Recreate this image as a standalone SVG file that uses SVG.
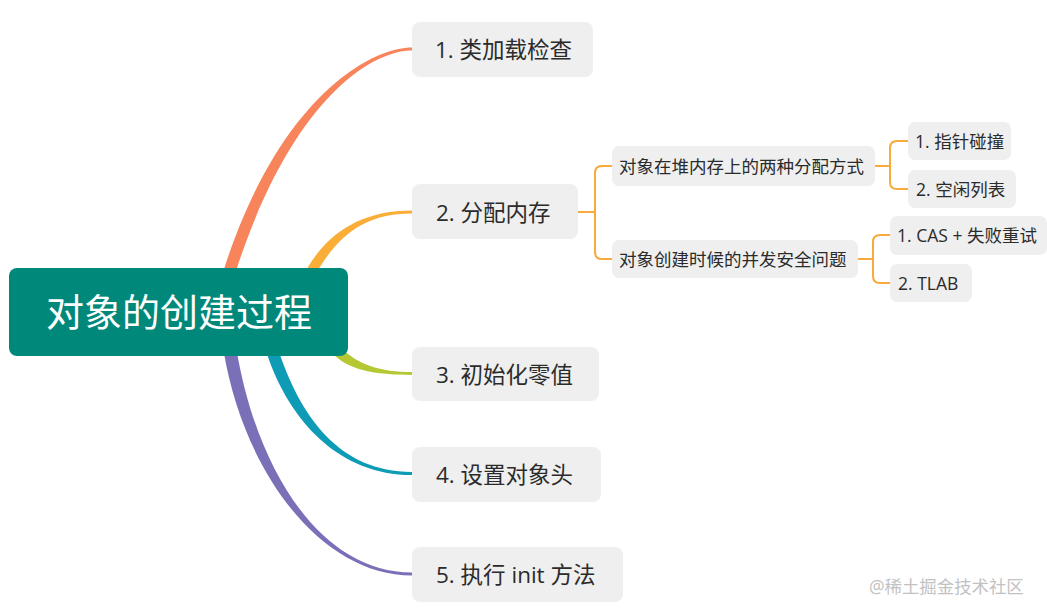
<svg xmlns="http://www.w3.org/2000/svg" width="1047" height="612" viewBox="0 0 1047 612">
<style>
.t{font-family:"Open Sans","Noto Sans CJK SC",sans-serif;fill:#2b2b2b;dominant-baseline:central}
.m{font-size:22.5px}
.s{font-size:17.5px}
.box{fill:#efefef}
.sub{fill:none;stroke:#f9aa3c;stroke-width:2;stroke-linecap:round}
</style>
<rect width="1047" height="612" fill="#ffffff"/>
<g id="connectors">
<path d="M 224.3 268.2 C 279.3 98.2 370 47.5 412 47.5 L 412 50.5 C 370 50.5 290.7 101.8 235.7 271.8 Z" fill="#f7845b"/>
<path d="M 307.7 267.4 C 330.7 229.4 365 210.5 412 210.5 L 412 213.5 C 365 213.5 339.3 234.6 316.3 272.6 Z" fill="#fbae37"/>
<path d="M 341.4 348.4 C 358.4 364.4 380 372 412 372 L 412 375 C 380 375 351.6 371.6 334.6 355.6 Z" fill="#b5c834"/>
<path d="M 277.7 348.1 C 300.7 418.1 340 472 412 472 L 412 475 C 340 475 289.3 421.9 266.3 351.9 Z" fill="#0e9bb6"/>
<path d="M 236.4 348.9 C 256.4 468.9 320 572.5 412 572.5 L 412 575.5 C 320 575.5 243.6 471.1 223.6 351.1 Z" fill="#7a70b8"/>
<path class="sub" d="M 578 212 H 595 M 612 166 H 602 Q 595 166 595 173 V 252 Q 595 259 602 259 H 612"/>
<path class="sub" d="M 875 166 H 890 M 908 141 H 897 Q 890 141 890 148 V 182 Q 890 189 897 189 H 908"/>
<path class="sub" d="M 858 259 H 873 M 890 235 H 880 Q 873 235 873 242 V 276 Q 873 283 880 283 H 890"/>
</g>
<g id="root">
<rect x="9" y="268" width="339" height="88" rx="8" fill="#00897b"/>
<text x="179" y="311" text-anchor="middle" font-family="'Open Sans','Noto Sans CJK SC',sans-serif" font-size="38" fill="#ffffff" dominant-baseline="central">对象的创建过程</text>
</g>
<g id="n1">
<rect class="box" x="412" y="22" width="181" height="55" rx="8"/>
<text class="t m" x="435" y="49">1. 类加载检查</text>
</g>
<g id="n2">
<rect class="box" x="412" y="184" width="166" height="55" rx="8"/>
<text class="t m" x="436" y="212">2. 分配内存</text>
</g>
<g id="n3">
<rect class="box" x="412" y="347" width="187" height="54" rx="8"/>
<text class="t m" x="436" y="374">3. 初始化零值</text>
</g>
<g id="n4">
<rect class="box" x="412" y="447" width="189" height="55" rx="8"/>
<text class="t m" x="436" y="474">4. 设置对象头</text>
</g>
<g id="n5">
<rect class="box" x="412" y="547" width="211" height="55" rx="8"/>
<text class="t m" x="436" y="574">5. 执行 init 方法</text>
</g>
<g id="n2a">
<rect class="box" x="612" y="146" width="263" height="40" rx="7"/>
<text class="t s" x="619" y="166">对象在堆内存上的两种分配方式</text>
</g>
<g id="n2b">
<rect class="box" x="612" y="240" width="246" height="38" rx="7"/>
<text class="t s" x="619" y="259">对象创建时候的并发安全问题</text>
</g>
<g id="n2a1">
<rect class="box" x="908" y="122" width="103" height="38" rx="7"/>
<text class="t s" x="915" y="141">1. 指针碰撞</text>
</g>
<g id="n2a2">
<rect class="box" x="908" y="170" width="108" height="38" rx="7"/>
<text class="t s" x="916" y="189">2. 空闲列表</text>
</g>
<g id="n2b1">
<rect class="box" x="890" y="216" width="157" height="39" rx="7"/>
<text class="t s" x="897" y="235">1. CAS + 失败重试</text>
</g>
<g id="n2b2">
<rect class="box" x="890" y="264" width="82" height="38" rx="7"/>
<text class="t s" x="898" y="283">2. TLAB</text>
</g>
<text x="869" y="586" font-family="'Open Sans','Noto Sans CJK SC',sans-serif" font-size="17.4" fill="#c2c2c2" dominant-baseline="central">@稀土掘金技术社区</text>
</svg>
